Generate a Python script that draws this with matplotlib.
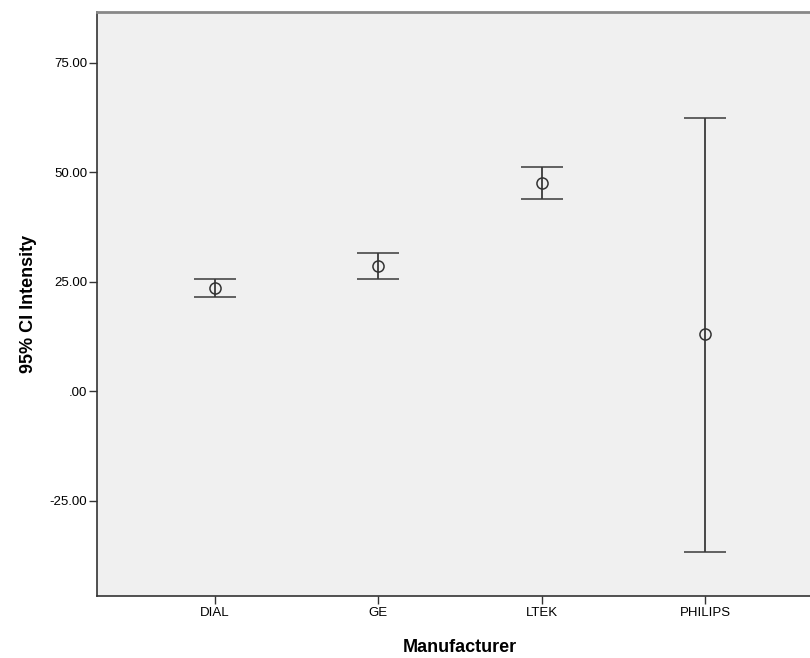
import matplotlib.pyplot as plt

manufacturers = ["DIAL", "GE", "LTEK", "PHILIPS"]
means = [23.6, 28.6, 47.5, 13.0]
lower = [21.6, 25.7, 43.9, -36.7]
upper = [25.7, 31.6, 51.2, 62.5]
yticks = [-25, 0, 25, 50, 75]
ytick_labels = ["-25.00", ".00", "25.00", "50.00", "75.00"]

plt.rcParams['font.family'] = ['Liberation Sans', 'DejaVu Sans']

fig = plt.figure(figsize=(8.1, 6.58), dpi=100)
ax = fig.add_axes([97 / 810, 62 / 658, 726 / 810, 584 / 658])
ax.set_facecolor("#f0f0f0")

x = list(range(len(manufacturers)))
err = [[m - lo for m, lo in zip(means, lower)],
       [hi - m for m, hi in zip(means, upper)]]
ax.errorbar(x, means, yerr=err, fmt="o", mfc="none", mec="#333333",
            ms=8, mew=1.1, ecolor="#3a3a3a", elinewidth=1.3,
            capsize=14.8, capthick=1.3)

ax.set_xlim(-0.7225, 3.7225)
ax.set_ylim(-46.7, 86.6)
ax.set_xticks(x)
ax.set_xticklabels(manufacturers, fontsize=9.5)
ax.set_yticks(yticks)
ax.set_yticklabels(ytick_labels, fontsize=9.5)
ax.tick_params(direction="out", length=6, width=1, color="#333333", pad=2)
ax.tick_params(axis="y", length=6, pad=1)

for side in ["left", "bottom"]:
    ax.spines[side].set_color("#333333")
    ax.spines[side].set_linewidth(1.2)
ax.spines["top"].set_color("#888888")
ax.spines["top"].set_linewidth(2)
ax.spines["right"].set_visible(False)

ax.set_xlabel("Manufacturer", fontsize=13, fontweight="bold", labelpad=14)
ax.set_ylabel("95% CI Intensity", fontsize=13, fontweight="bold", labelpad=9)

fig.savefig("out.png", dpi=100)
